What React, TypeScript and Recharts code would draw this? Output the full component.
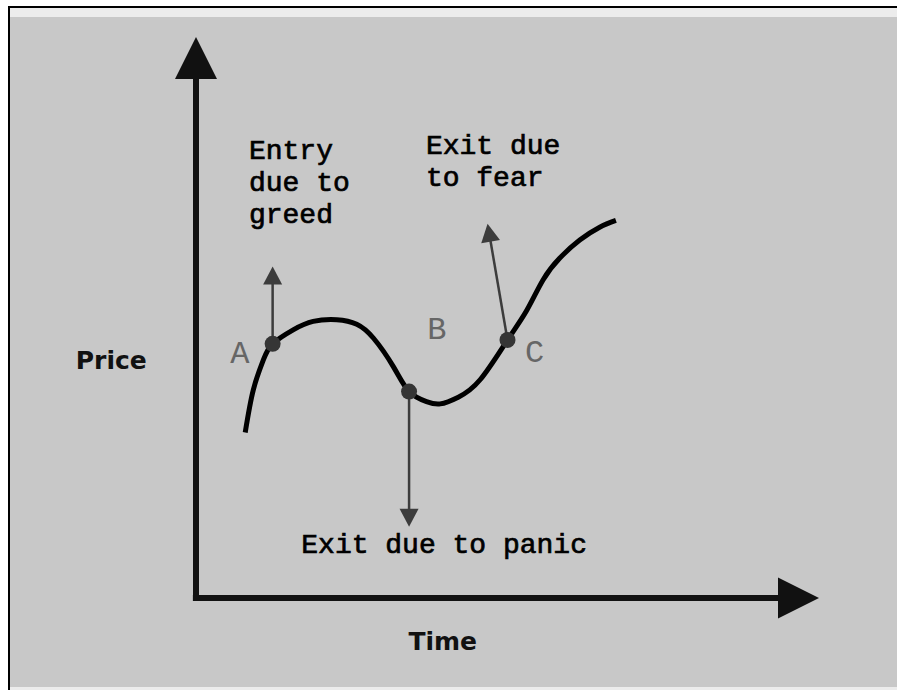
import React from 'react';
import { LineChart, Line, XAxis, YAxis, ReferenceLine, ReferenceDot } from 'recharts';

// Price curve (time, price) in arbitrary 0..100 units
const curveTime = [7.9, 9.2, 10.8, 12.3, 15.6, 18.8, 22.6, 25.8, 28.5, 31.7, 34.2, 37.0, 39.2, 42.1, 45.6, 50.0, 53.1, 55.7, 58.4, 61.6, 64.8, 67.4];
const curvePrice = [29.5, 37.1, 42.4, 45.3, 47.8, 49.3, 49.6, 48.8, 46.3, 41.2, 36.8, 35.0, 34.6, 35.8, 38.9, 46.0, 51.3, 56.7, 60.6, 63.8, 66.1, 67.3];

// Marked points A, B, C and their arrows
const pointLabels = ['A', 'B', 'C'];
const pointTime = [12.3, 34.2, 50.0];
const pointPrice = [45.3, 36.8, 46.0];
const arrowTipTime = [12.3, 34.2, 46.8];
const arrowTipPrice = [59.1, 12.7, 66.7];
const pointLabelTime = [5.5, 37.1, 52.8];
const pointLabelPrice = [41.9, 46.2, 42.1];

// Annotations
const notes = [['Entry', 'due to', 'greed'], ['Exit due to panic'], ['Exit due', 'to fear']];
const noteTime = [8.5, 16.9, 36.9];
const notePrice = [78.3, 8.0, 79.1];

// Axis titles
const xAxisTitle = 'Time';
const yAxisTitle = 'Price';
const xTitlePos = [39.6, -9.3];
const yTitlePos = [-13.6, 40.8];

const data = curveTime.map((t, i) => ({ t, p: curvePrice[i] }));

const MONO = '"Courier New", "Liberation Mono", monospace';
const SANS = '"DejaVu Sans", Verdana, sans-serif';

function arrowShape(color: string, sw: number, headLen: number, headW: number) {
  return (props: any) => {
    const x1 = Number(props.x1), y1 = Number(props.y1), x2 = Number(props.x2), y2 = Number(props.y2);
    const dx = x2 - x1, dy = y2 - y1;
    const len = Math.hypot(dx, dy) || 1;
    const ux = dx / len, uy = dy / len;
    const bx = x2 - ux * headLen, by = y2 - uy * headLen;
    const px = -uy, py = ux;
    const pts = `${x2},${y2} ${bx + (px * headW) / 2},${by + (py * headW) / 2} ${bx - (px * headW) / 2},${by - (py * headW) / 2}`;
    return (
      <g>
        <line x1={x1} y1={y1} x2={bx + ux} y2={by + uy} stroke={color} strokeWidth={sw} />
        <polygon points={pts} fill={color} />
      </g>
    );
  };
}

function textShape(lines: string[], opts: any) {
  return (props: any) => {
    const { cx, cy } = props;
    return (
      <text
        x={cx}
        y={cy}
        fontFamily={opts.family}
        fontSize={opts.size}
        fontWeight={opts.weight}
        fill={opts.color}
        stroke={opts.stroke ? opts.color : 'none'}
        strokeWidth={opts.stroke || 0}
        textAnchor={opts.anchor}
      >
        {lines.map((l, i) => (
          <tspan key={i} x={cx} dy={i === 0 ? 0 : opts.lineHeight}>
            {l}
          </tspan>
        ))}
      </text>
    );
  };
}

export default function App() {
  return (
    <div style={{ position: 'absolute', left: 0, top: 0, width: 897, height: 690, background: '#fff' }}>
      <div
        style={{
          position: 'absolute',
          left: 8,
          top: 6,
          width: 889,
          height: 684,
          borderTop: '2px solid #000',
          borderLeft: '2px solid #000',
          background: '#ececec',
          boxSizing: 'border-box',
        }}
      />
      <div style={{ position: 'absolute', left: 10, top: 17, width: 887, height: 670, background: '#c8c8c8' }} />
      <div style={{ position: 'absolute', left: 0, top: 0 }}>
        <LineChart width={897} height={690} data={data} margin={{ top: 37, right: 78, bottom: 92, left: 196 }}>
          <XAxis dataKey="t" type="number" domain={[0, 100]} hide />
          <YAxis type="number" domain={[0, 100]} hide />
          {/* axes with arrowheads */}
          <ReferenceLine
            segment={[{ x: -0.5, y: 0 }, { x: 100, y: 0 }]}
            ifOverflow="visible"
            shape={arrowShape('#111', 6, 41, 41)}
          />
          <ReferenceLine
            segment={[{ x: 0, y: -0.5 }, { x: 0, y: 100 }]}
            ifOverflow="visible"
            shape={arrowShape('#111', 6, 42, 42)}
          />
          <Line type="natural" dataKey="p" stroke="#000" strokeWidth={5} dot={false} isAnimationActive={false} />
          {pointLabels.map((lab, i) => (
            <ReferenceLine
              key={'ar' + lab}
              segment={[{ x: pointTime[i], y: pointPrice[i] }, { x: arrowTipTime[i], y: arrowTipPrice[i] }]}
              ifOverflow="visible"
              shape={arrowShape('#3c3c3c', 2.5, 18, 19)}
            />
          ))}
          {pointLabels.map((lab, i) => (
            <ReferenceDot
              key={'pt' + lab}
              x={pointTime[i]}
              y={pointPrice[i]}
              r={8}
              fill="#353535"
              stroke="none"
              ifOverflow="visible"
            />
          ))}
          {pointLabels.map((lab, i) => (
            <ReferenceDot
              key={'pl' + lab}
              x={pointLabelTime[i]}
              y={pointLabelPrice[i]}
              r={0}
              ifOverflow="visible"
              shape={textShape([lab], { family: MONO, size: 32, weight: 400, color: '#666', anchor: 'start', lineHeight: 0 })}
            />
          ))}
          {notes.map((lines, i) => (
            <ReferenceDot
              key={'n' + i}
              x={noteTime[i]}
              y={notePrice[i]}
              r={0}
              ifOverflow="visible"
              shape={textShape(lines, { family: MONO, size: 28, weight: 400, color: '#000', stroke: 0.7, anchor: 'start', lineHeight: 32 })}
            />
          ))}
          <ReferenceDot
            x={xTitlePos[0]}
            y={xTitlePos[1]}
            r={0}
            ifOverflow="visible"
            shape={textShape([xAxisTitle], { family: SANS, size: 25, weight: 700, color: '#111', anchor: 'middle', lineHeight: 0 })}
          />
          <ReferenceDot
            x={yTitlePos[0]}
            y={yTitlePos[1]}
            r={0}
            ifOverflow="visible"
            shape={textShape([yAxisTitle], { family: SANS, size: 25, weight: 700, color: '#111', anchor: 'middle', lineHeight: 0 })}
          />
        </LineChart>
      </div>
    </div>
  );
}
